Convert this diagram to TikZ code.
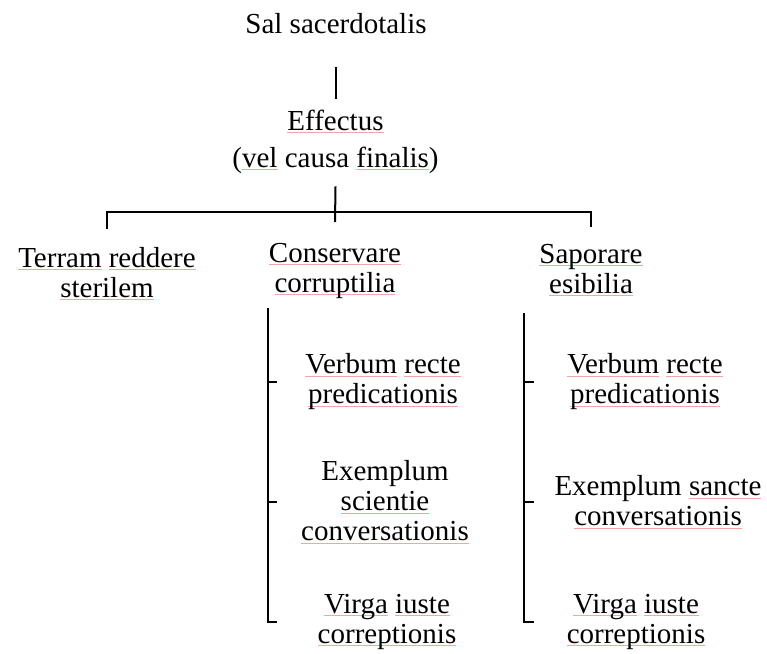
\documentclass[tikz,border=0pt]{standalone}
\usepackage{fontspec}
\setmainfont{Liberation Serif}
\usepackage{xcolor}
\definecolor{spellred}{RGB}{242,165,165}
\usepackage{tikz}
\usetikzlibrary{
  positioning,
  calc
}
\tikzset{
  txt/.style={font=\fontsize{29}{30}\selectfont, align=center, inner sep=0pt},
  brace/.style={line width=2pt}
}
\newsavebox{\typobox}
\newcommand{\typo}[1]{\sbox{\typobox}{#1}%
  \rlap{\textcolor{spellred}{\rule[-2.5pt]{\wd\typobox}{0.6pt}}}\usebox{\typobox}}

\begin{document}
\begin{tikzpicture}[x=1pt, y=-1pt]
  \useasboundingbox (0,0) rectangle (767,653);

  % Top of the tree
  \node[txt, anchor=base] (sal) at (336,33) {Sal sacerdotalis};
  \node[txt, anchor=base] (eff) at (335.5,167)
    {\typo{Effectus}\\[7pt](\typo{vel} causa \typo{finalis})};
  \draw[brace] ([yshift=-34pt]sal.south) -- ([yshift=10pt]sal.south |- eff.north);

  % Three branches (base = last line)
  \node[txt, anchor=base] (terram) at (107,297)
    {\typo{Terram} \typo{reddere}\\\typo{sterilem}};
  \node[txt, anchor=base] (cons) at (335,292)
    {\typo{Conservare}\\\typo{corruptilia}};
  \node[txt, anchor=base] (sap) at (591,293)
    {\typo{Saporare}\\\typo{esibilia}};

  \coordinate (bar) at (335,212);
  \draw[brace] ([yshift=-13pt]eff.south) -- ([yshift=-10pt]bar);
  \draw[brace] ([yshift=18pt]terram.north) -- (terram.north |- bar)
    -- (sap.north |- bar) -- ([yshift=17pt]sap.north);

  % Middle column
  \node[txt] (verbA) at (383,382)
    {\typo{Verbum} \typo{recte}\\\typo{predicationis}};
  \node[txt] (exemA) at (385,502)
    {Exemplum\\\typo{scientie}\\\typo{conversationis}};
  \node[txt] (virgA) at (387,622)
    {\typo{Virga} \typo{iuste}\\\typo{correptionis}};

  \coordinate (colA) at (268,308);
  \draw[brace] (colA) -- (colA |- virgA) -- ++(9,0);
  \draw[brace] (colA |- verbA) -- ++(9,0);
  \draw[brace] (colA |- exemA) -- ++(9,0);

  % Right column
  \node[txt] (verbB) at (645,382)
    {\typo{Verbum} \typo{recte}\\\typo{predicationis}};
  \node[txt] (exemB) at (658,502)
    {Exemplum \typo{sancte}\\\typo{conversationis}};
  \node[txt] (virgB) at (636,622)
    {\typo{Virga} \typo{iuste}\\\typo{correptionis}};

  \coordinate (colB) at (524,313);
  \draw[brace] (colB) -- (colB |- virgB) -- ++(10,0);
  \draw[brace] (colB |- verbB) -- ++(10,0);
  \draw[brace] (colB |- exemB) -- ++(10,0);
\end{tikzpicture}
\end{document}
